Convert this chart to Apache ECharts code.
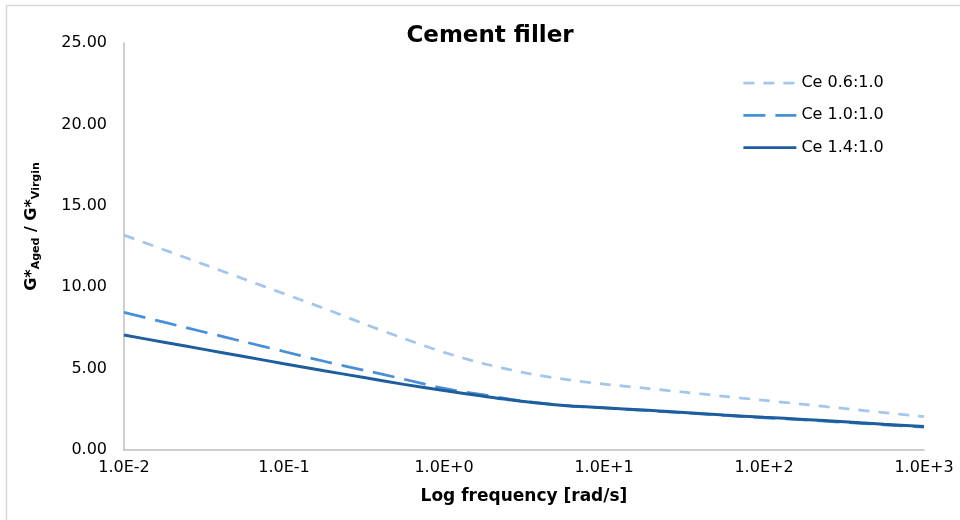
<!DOCTYPE html>
<html>
<head>
<meta charset="utf-8">
<title>Cement filler</title>
<script src="https://cdn.jsdelivr.net/npm/echarts@6/dist/echarts.min.js"></script>
<style>
  html, body { margin: 0; padding: 0; background: #ffffff; }
  #chart { width: 960px; height: 520px; }
</style>
</head>
<body>
<div id="chart"></div>
<script>
// Angular frequency [rad/s], quarter-decade steps
const frequencies = [0.01, 0.01778, 0.03162, 0.05623, 0.1, 0.1778, 0.3162, 0.5623,
  1, 1.778, 3.162, 5.623, 10, 17.78, 31.62, 56.23, 100, 177.8, 316.2, 562.3, 1000];

// G*Aged / G*Virgin ratio per filler/binder ratio
const ce06 = [13.2, 12.3, 11.4, 10.5, 9.6, 8.7, 7.75, 6.85, 6.0, 5.3, 4.75, 4.35,
  4.05, 3.8, 3.55, 3.3, 3.05, 2.8, 2.55, 2.3, 2.05];
const ce10 = [8.45, 7.85, 7.25, 6.65, 6.05, 5.45, 4.9, 4.35, 3.78, 3.38, 3.0, 2.73,
  2.58, 2.43, 2.28, 2.12, 1.98, 1.85, 1.7, 1.55, 1.4];
const ce14 = [7.06, 6.62, 6.18, 5.74, 5.3, 4.87, 4.45, 4.03, 3.65, 3.3, 2.98, 2.74,
  2.6, 2.45, 2.3, 2.15, 2.01, 1.88, 1.73, 1.58, 1.44];

const seriesNames = ['Ce 0.6:1.0', 'Ce 1.0:1.0', 'Ce 1.4:1.0'];
const xTickLabels = ['1.0E-2', '1.0E-1', '1.0E+0', '1.0E+1', '1.0E+2', '1.0E+3'];

const FONT = 'DejaVu Sans';

function pairs(values) {
  return frequencies.map((f, i) => [f, values[i]]);
}

function lineSeries(name, values, color, dash, width) {
  return {
    name: name,
    type: 'line',
    data: pairs(values),
    smooth: 0.3,
    symbol: 'none',
    showSymbol: false,
    lineStyle: { color: color, width: width, type: dash, cap: 'butt' },
    itemStyle: { color: color },
    emphasis: { disabled: true }
  };
}

const chart = echarts.init(document.getElementById('chart'), null, { renderer: 'canvas' });

chart.setOption({
  animation: false,
  backgroundColor: '#ffffff',
  title: {
    text: 'Cement filler',
    left: 485,
    top: 20,
    textAlign: 'center',
    textStyle: { fontFamily: FONT, fontSize: 23, fontWeight: 'bold', color: '#000000' }
  },
  legend: {
    orient: 'vertical',
    left: 737,
    top: 70,
    itemWidth: 53,
    itemHeight: 16,
    itemGap: 16.3,
    data: seriesNames,
    // line-only legend keys: hide the marker drawn on top of the line
    itemStyle: { opacity: 0 },
    lineStyle: { width: 2.75 },
    textStyle: { fontFamily: FONT, fontSize: 16, lineHeight: 16, color: '#000000' }
  },
  grid: { left: 124, right: 36, top: 43, bottom: 70, containLabel: false },
  xAxis: {
    type: 'log',
    logBase: 10,
    min: 0.01,
    max: 1000,
    name: 'Log frequency [rad/s]',
    nameLocation: 'middle',
    nameGap: 38,
    nameTextStyle: { fontFamily: FONT, fontSize: 17, fontWeight: 'bold', color: '#000000' },
    axisLine: { show: true, lineStyle: { color: '#BFBFBF', width: 1.5 } },
    axisTick: { show: false },
    splitLine: { show: false },
    minorTick: { show: false },
    axisLabel: {
      margin: 10,
      fontFamily: FONT,
      fontSize: 16,
      color: '#000000',
      formatter: function (v) {
        return xTickLabels[Math.round(Math.log10(v)) + 2];
      }
    }
  },
  yAxis: {
    type: 'value',
    min: 0,
    max: 25,
    interval: 5,
    name: '{m|G*}{s|Aged}{m| / G*}{s|Virgin}',
    nameLocation: 'middle',
    nameRotate: 90,
    nameGap: 82,
    nameTextStyle: {
      padding: [0, 0, 0, 40],
      rich: {
        m: { fontFamily: FONT, fontSize: 16, fontWeight: 'bold', color: '#000000' },
        s: { fontFamily: FONT, fontSize: 11, fontWeight: 'bold', color: '#000000',
             verticalAlign: 'bottom', padding: [10, 0, 0, 0] }
      }
    },
    axisLine: { show: true, lineStyle: { color: '#BFBFBF', width: 1.5 } },
    axisTick: { show: false },
    splitLine: { show: false },
    axisLabel: {
      margin: 17,
      fontFamily: FONT,
      fontSize: 16,
      color: '#000000',
      formatter: function (v) { return v.toFixed(2); }
    }
  },
  graphic: [{
    type: 'rect',
    silent: true,
    shape: { x: 6.5, y: 5.5, width: 960, height: 520 },
    style: { fill: 'none', stroke: '#D9D9D9', lineWidth: 1.5 }
  }],
  series: [
    lineSeries(seriesNames[0], ce06, '#A3C7EA', [11, 9], 2.75),
    lineSeries(seriesNames[1], ce10, '#4A90D9', [22, 10], 2.75),
    lineSeries(seriesNames[2], ce14, '#1F5E9E', 'solid', 3)
  ]
});
</script>
</body>
</html>
